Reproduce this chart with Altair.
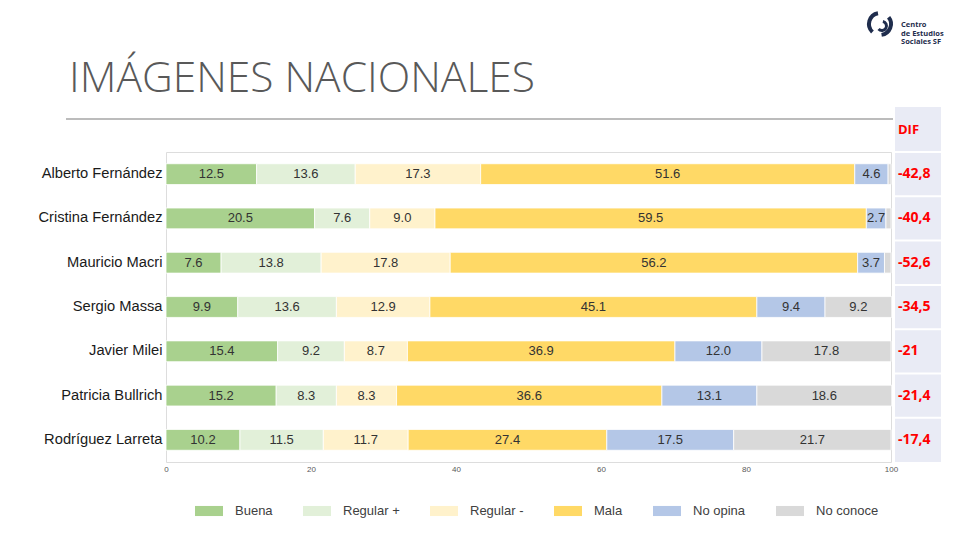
import altair as alt
import pandas as pd

# --- data -------------------------------------------------------------
candidates = [
    "Alberto Fernández", "Cristina Fernández", "Mauricio Macri",
    "Sergio Massa", "Javier Milei", "Patricia Bullrich", "Rodríguez Larreta",
]
categories = ["Buena", "Regular +", "Regular -", "Mala", "No opina", "No conoce"]
colors = ["#a9d18e", "#e2f0d9", "#fff2cc", "#ffd966", "#b4c7e7", "#d9d9d9"]

buena = [12.5, 20.5, 7.6, 9.9, 15.4, 15.2, 10.2]
regular_mas = [13.6, 7.6, 13.8, 13.6, 9.2, 8.3, 11.5]
regular_menos = [17.3, 9.0, 17.8, 12.9, 8.7, 8.3, 11.7]
mala = [51.6, 59.5, 56.2, 45.1, 36.9, 36.6, 27.4]
no_opina = [4.6, 2.7, 3.7, 9.4, 12.0, 13.1, 17.5]
no_conoce = [0.4, 0.7, 0.9, 9.2, 17.8, 18.6, 21.7]

dif = ["-42,8", "-40,4", "-52,6", "-34,5", "-21", "-21,4", "-17,4"]
x_ticks = [0, 20, 40, 60, 80, 100]

logo_lines = ["Centro", "de Estudios", "Sociales SF"]

# --- tables -----------------------------------------------------------
series = [buena, regular_mas, regular_menos, mala, no_opina, no_conoce]
rows = []
for i, cand in enumerate(candidates):
    start = 0.0
    for j, cat in enumerate(categories):
        v = series[j][i]
        rows.append({
            "candidate": cand, "category": cat, "order": j,
            "start": start, "end": start + v, "mid": start + v / 2,
            "label": f"{v:.1f}" if v >= 1 else "",
        })
        start += v
df = pd.DataFrame(rows)
dif_df = pd.DataFrame({"candidate": candidates, "dif": dif})
one = pd.DataFrame({"k": [0]})

W, H = 725, 310
FONT = "Liberation Sans"

y_scale = alt.Scale(paddingInner=0.53, paddingOuter=0.265)
y_enc = alt.Y(
    "candidate:N", sort=candidates, title=None, scale=y_scale,
    axis=alt.Axis(labelFontSize=14.7, labelColor="#1a1a1a", labelPadding=4,
                  domain=False, ticks=False, labelFont=FONT, title=None),
)
y_plain = alt.Y("candidate:N", sort=candidates, title=None)

legend_path = "M-1,-0.36H1V0.36H-1Z"

bars = alt.Chart(df).mark_bar(stroke="white", strokeWidth=0.8).encode(
    x=alt.X("start:Q", title=None,
            scale=alt.Scale(domain=[0, 100], nice=False, zero=True),
            axis=alt.Axis(values=x_ticks, labelFontSize=8, labelColor="#595959",
                          ticks=False, domain=False, grid=False, labelPadding=3,
                          labelFont=FONT, labelFlush=False)),
    x2="end:Q",
    y=y_enc,
    order=alt.Order("order:Q"),
    color=alt.Color(
        "category:N", sort=categories,
        scale=alt.Scale(domain=categories, range=colors),
        legend=alt.Legend(
            title=None, orient="none", direction="horizontal",
            legendX=29, legendY=345, symbolType=legend_path, symbolSize=784,
            symbolStrokeWidth=0, labelFontSize=13, labelFont=FONT,
            labelColor="#404040", columnPadding=30, labelOffset=12,
            padding=0, columns=6,
        ),
    ),
)

labels = alt.Chart(df).mark_text(fontSize=13, color="#333333", font=FONT).encode(
    x="mid:Q", y=y_plain, text="label:N",
)

# DIF column
panel = alt.Chart(one).mark_rect(color="#e9ebf5").encode(
    x=alt.value(729), x2=alt.value(775), y=alt.value(-45), y2=alt.value(H),
)
panel_lines = alt.Chart(dif_df).mark_rule(color="white", strokeWidth=2, yOffset=-22.1).encode(
    x=alt.value(729), x2=alt.value(775), y=y_plain,
)
dif_head = alt.Chart(one).mark_text(
    text="DIF", color="#ff0000", fontWeight="bold", fontSize=13, align="left",
    baseline="middle", font="Open Sans",
).encode(x=alt.value(732), y=alt.value(-22))
dif_text = alt.Chart(dif_df).mark_text(
    color="#ff0000", fontWeight="bold", fontSize=14, align="left",
    baseline="middle", font="Open Sans",
).encode(x=alt.value(732), y=y_plain, text="dif:N")

# heading and rule underneath
heading = alt.Chart(one).mark_text(
    text="IMÁGENES NACIONALES", fontSize=42.5, color="#595959", align="left",
    baseline="middle", font="Open Sans", fontWeight=300,
).encode(x=alt.value(-97), y=alt.value(-73))
heading_rule = alt.Chart(one).mark_rule(color="#a6a6a6", strokeWidth=1.5).encode(
    x=alt.value(-100), x2=alt.value(727), y=alt.value(-33),
)

# logo
logo_text = alt.Chart(one).mark_text(
    text="\n".join(logo_lines), lineBreak="\n",
    fontSize=7.5, fontWeight="bold", color="#1f2d4d", align="left",
    baseline="top", font="Open Sans", lineHeight=8.5,
).encode(x=alt.value(735), y=alt.value(-131))
logo_arc1 = alt.Chart(one).mark_arc(
    radius=13, radius2=9, theta=3.9, theta2=6.1, color="#1f2d4d",
).encode(x=alt.value(714), y=alt.value(-128))
logo_arc2 = alt.Chart(one).mark_arc(
    radius=13, radius2=9, theta=0.9, theta2=3.0, color="#1f2d4d",
).encode(x=alt.value(714), y=alt.value(-128))
logo_arc3 = alt.Chart(one).mark_arc(
    radius=6, radius2=3, theta=0.2, theta2=4.0, color="#1f2d4d",
).encode(x=alt.value(716), y=alt.value(-126))

chart = alt.layer(
    panel, panel_lines, bars, labels, dif_head, dif_text,
    heading, heading_rule, logo_text, logo_arc1, logo_arc2, logo_arc3,
).properties(
    width=W, height=H,
    autosize=alt.AutoSizeParams(type="none"),
    padding={"left": 166, "top": 152, "right": 69, "bottom": 79},
    background="white",
).configure_view(stroke="#404040", strokeWidth=1.5).configure(font=FONT)

chart.save("out.html", embed_options={"renderer": "svg", "actions": False})
